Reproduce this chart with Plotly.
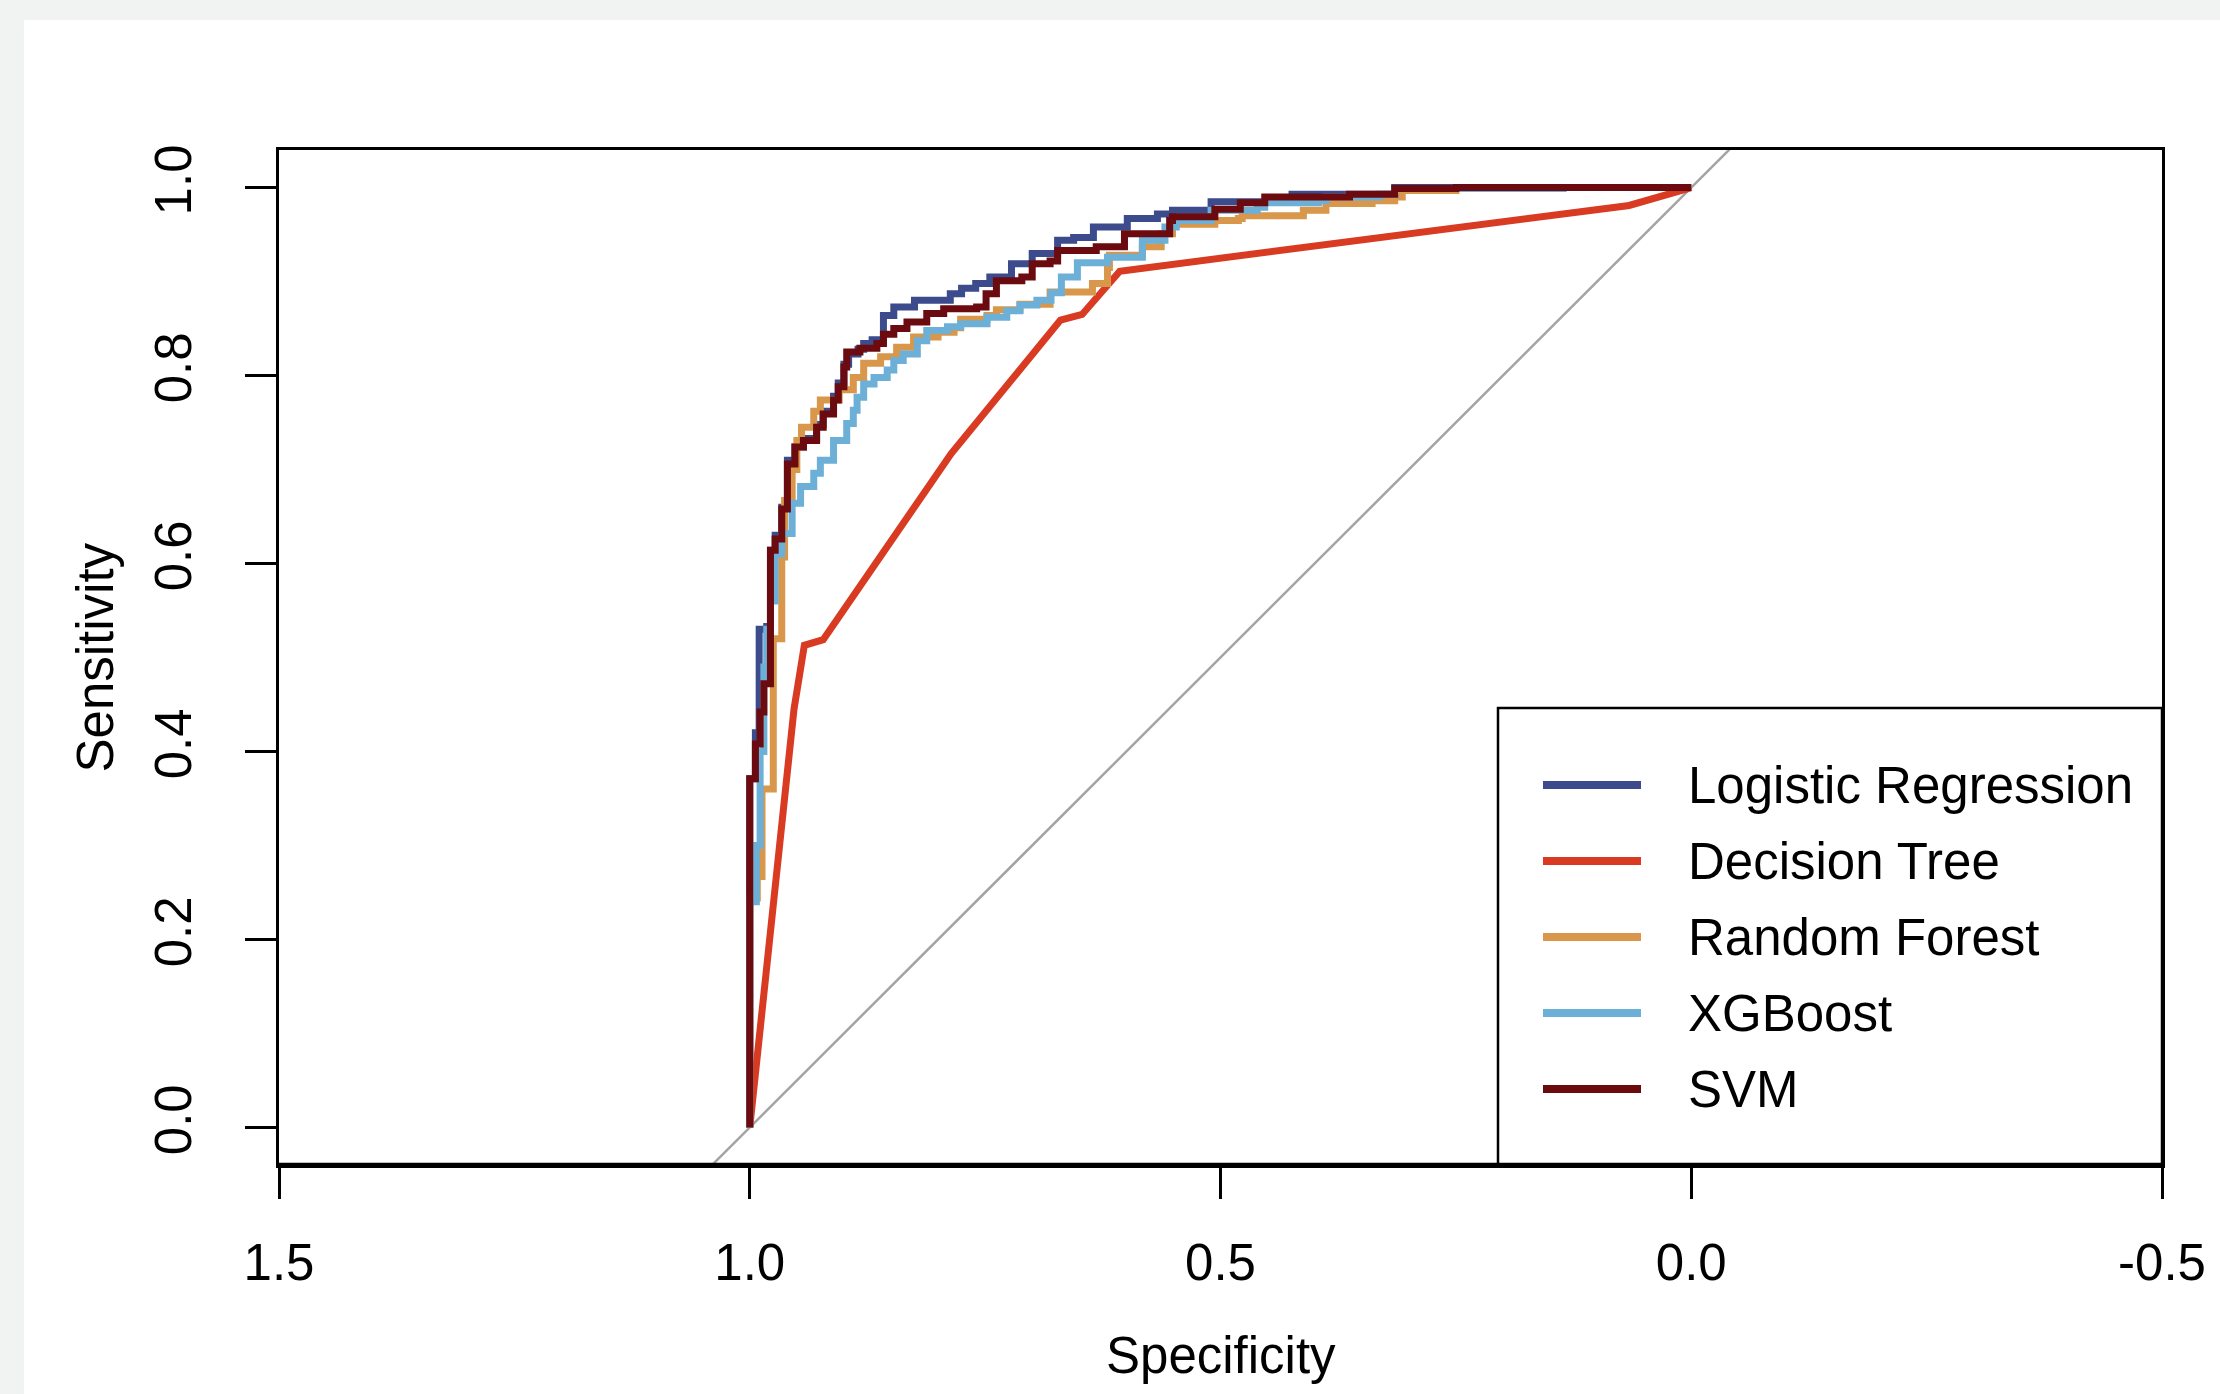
import plotly.graph_objects as go

# ---------------- data (specificity, sensitivity) ----------------
models = ["Logistic Regression", "Decision Tree", "Random Forest", "XGBoost", "SVM"]
colors = ["#3B4B8C", "#D83A22", "#D8974A", "#6CB0D8", "#6B0B0F"]

lr_spec = [1.0, 1.0, 0.994, 0.990, 0.982, 0.978, 0.973, 0.966, 0.960, 0.952, 0.943, 0.929, 0.922,
           0.911, 0.906, 0.900, 0.895, 0.885, 0.879, 0.870, 0.858, 0.847, 0.825, 0.787, 0.775,
           0.760, 0.745, 0.722, 0.700, 0.673, 0.656, 0.635, 0.599, 0.567, 0.551, 0.510, 0.424,
           0.315, 0.0]
lr_sens = [0.0, 0.371, 0.420, 0.530, 0.533, 0.614, 0.630, 0.660, 0.710, 0.724, 0.733, 0.748, 0.762,
           0.778, 0.792, 0.812, 0.823, 0.828, 0.834, 0.838, 0.864, 0.873, 0.880, 0.887, 0.893,
           0.898, 0.905, 0.919, 0.930, 0.944, 0.947, 0.958, 0.967, 0.972, 0.976, 0.985, 0.993,
           1.0, 1.0]

dt_spec = [1.0, 0.953, 0.942, 0.922, 0.786, 0.670, 0.647, 0.607, 0.066, 0.0]
dt_sens = [0.0, 0.445, 0.513, 0.519, 0.717, 0.859, 0.865, 0.911, 0.981, 1.0]

rf_spec = [1.0, 1.0, 0.992, 0.987, 0.975, 0.966, 0.963, 0.955, 0.950, 0.945, 0.932, 0.925, 0.905,
           0.890, 0.879, 0.861, 0.844, 0.826, 0.800, 0.783, 0.776, 0.748, 0.738, 0.713, 0.681,
           0.636, 0.620, 0.618, 0.583, 0.563, 0.551, 0.506, 0.481, 0.477, 0.412, 0.388, 0.339,
           0.315, 0.307, 0.25, 0.0]
rf_sens = [0.0, 0.244, 0.267, 0.360, 0.520, 0.607, 0.667, 0.700, 0.731, 0.745, 0.762, 0.774, 0.785,
           0.798, 0.813, 0.820, 0.830, 0.841, 0.846, 0.851, 0.860, 0.864, 0.870, 0.876, 0.889,
           0.898, 0.915, 0.928, 0.937, 0.951, 0.961, 0.965, 0.967, 0.970, 0.976, 0.983, 0.986,
           0.990, 0.997, 1.0, 1.0]

xgb_spec = [1.0, 1.0, 0.993, 0.989, 0.985, 0.982, 0.978, 0.973, 0.966, 0.955, 0.946, 0.932, 0.925,
            0.911, 0.897, 0.890, 0.886, 0.879, 0.868, 0.854, 0.847, 0.837, 0.822, 0.812, 0.790,
            0.776, 0.748, 0.727, 0.713, 0.695, 0.680, 0.669, 0.652, 0.620, 0.583, 0.559, 0.547,
            0.510, 0.461, 0.453, 0.396, 0.388, 0.331, 0.315, 0.136, 0.0]
xgb_sens = [0.0, 0.240, 0.300, 0.400, 0.490, 0.530, 0.560, 0.610, 0.632, 0.664, 0.682, 0.696, 0.710,
            0.731, 0.749, 0.763, 0.777, 0.791, 0.798, 0.806, 0.816, 0.823, 0.837, 0.848, 0.852,
            0.855, 0.862, 0.869, 0.875, 0.880, 0.888, 0.905, 0.920, 0.926, 0.944, 0.958, 0.965,
            0.976, 0.979, 0.984, 0.986, 0.990, 0.993, 0.999, 1.0, 1.0]

svm_spec = [1.0, 1.0, 0.994, 0.989, 0.985, 0.978, 0.973, 0.966, 0.960, 0.952, 0.943, 0.929, 0.922,
            0.911, 0.906, 0.900, 0.897, 0.883, 0.865, 0.858, 0.847, 0.833, 0.812, 0.794, 0.759,
            0.749, 0.738, 0.711, 0.700, 0.681, 0.673, 0.632, 0.602, 0.579, 0.554, 0.551, 0.506,
            0.479, 0.453, 0.363, 0.315, 0.25, 0.0]
svm_sens = [0.0, 0.371, 0.408, 0.442, 0.472, 0.614, 0.626, 0.658, 0.706, 0.724, 0.731, 0.745, 0.759,
            0.774, 0.788, 0.809, 0.825, 0.829, 0.834, 0.844, 0.850, 0.857, 0.866, 0.871, 0.873,
            0.887, 0.901, 0.905, 0.919, 0.922, 0.933, 0.937, 0.951, 0.951, 0.965, 0.969, 0.977,
            0.984, 0.990, 0.993, 0.999, 1.0, 1.0]

x_ticks = [1.5, 1.0, 0.5, 0.0, -0.5]
x_tick_labels = ["1.5", "1.0", "0.5", "0.0", "-0.5"]
y_ticks = [0.0, 0.2, 0.4, 0.6, 0.8, 1.0]
y_tick_labels = ["0.0", "0.2", "0.4", "0.6", "0.8", "1.0"]
diag_x = [1.2, -0.2]
diag_y = [-0.2, 1.2]

# ---------------- figure ----------------
W, H = 2220, 1394
L, R, T, B = 279, 58, 150, 229
PW, PH = W - L - R, H - T - B
FONT = "Liberation Sans, Arial, Helvetica, sans-serif"
FS = 51
BG = "#f0f3f2"

def px2paper_x(px):
    return (px - L) / PW

def py2paper_y(py):
    return (H - B - py) / PH

fig = go.Figure()
fig.add_trace(go.Scatter(x=diag_x, y=diag_y, mode="lines",
                         line=dict(color="#a4a4a4", width=2.5), showlegend=False, hoverinfo="skip"))

series = [
    (lr_spec, lr_sens, "hv"),
    (dt_spec, dt_sens, "linear"),
    (rf_spec, rf_sens, "hv"),
    (xgb_spec, xgb_sens, "hv"),
    (svm_spec, svm_sens, "hv"),
]
for (xs, ys, shp), name, col in zip(series, models, colors):
    fig.add_trace(go.Scatter(x=xs, y=ys, mode="lines", name=name,
                             line=dict(color=col, width=7, shape=shp), showlegend=False))

shapes = []
# white panel behind plot
shapes.append(dict(type="rect", xref="paper", yref="paper",
                   x0=px2paper_x(24), x1=px2paper_x(W + 5), y0=py2paper_y(H + 5), y1=py2paper_y(20),
                   fillcolor="white", line=dict(width=0), layer="below"))
# legend box
shapes.append(dict(type="rect", xref="paper", yref="paper",
                   x0=px2paper_x(1498), x1=1.0, y0=0.0, y1=py2paper_y(708),
                   fillcolor="white", line=dict(color="black", width=2.5), layer="above"))
annotations = []
row0, step = 785, 76
for i, (name, col) in enumerate(zip(models, colors)):
    yy = py2paper_y(row0 + i * step)
    shapes.append(dict(type="line", xref="paper", yref="paper",
                       x0=px2paper_x(1543), x1=px2paper_x(1641), y0=yy, y1=yy,
                       line=dict(color=col, width=8), layer="above"))
    annotations.append(dict(xref="paper", yref="paper", x=px2paper_x(1686), y=yy,
                            text=name, showarrow=False, xanchor="left", yanchor="middle",
                            font=dict(family=FONT, size=FS, color="black")))
# thicker bottom axis line (box + axis)
shapes.append(dict(type="line", xref="paper", yref="paper", x0=0, x1=1, y0=0, y1=0,
                   line=dict(color="black", width=4.5), layer="above"))

annotations.append(dict(xref="paper", yref="paper", x=0.5, y=0, yshift=-(1355 - (H - B)),
                        text="Specificity", showarrow=False, xanchor="center", yanchor="middle",
                        font=dict(family=FONT, size=FS, color="black")))
annotations.append(dict(xref="paper", yref="paper", x=0, y=0.5, xshift=-(L - 95),
                        text="Sensitivity", showarrow=False, xanchor="center", yanchor="middle",
                        textangle=-90, font=dict(family=FONT, size=FS, color="black")))

axis_common = dict(showgrid=False, zeroline=False, showline=True, linecolor="black", linewidth=3,
                   mirror=True, ticks="outside", ticklen=31, tickwidth=2.5, tickcolor="black",
                   tickfont=dict(family=FONT, size=FS, color="black"))

fig.update_layout(
    width=W, height=H,
    margin=dict(l=L, r=R, t=T, b=B, pad=0),
    paper_bgcolor=BG, plot_bgcolor="white",
    xaxis=dict(range=[1.5, -0.5], tickvals=x_ticks, ticktext=x_tick_labels,
               ticklabelstandoff=20, **axis_common),
    yaxis=dict(range=[-0.04, 1.04], tickvals=y_ticks, ticktext=y_tick_labels,
               tickangle=-90, ticklabelstandoff=34, **axis_common),
    shapes=shapes, annotations=annotations, showlegend=False,
)

fig.write_html("out.html", config={"displayModeBar": False},
               post_script="document.body.style.margin='0';document.body.style.background='%s';" % BG)
